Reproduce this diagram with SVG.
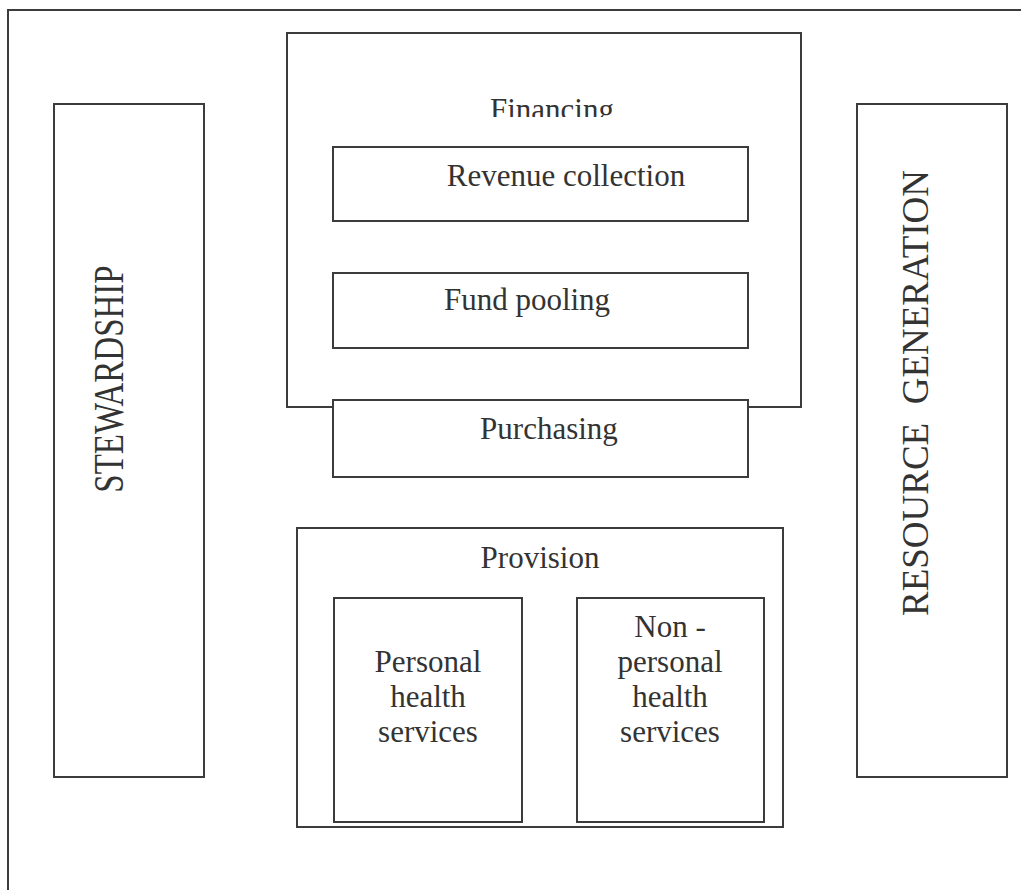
<svg xmlns="http://www.w3.org/2000/svg" width="1021" height="890" viewBox="0 0 1021 890">
<style>
.box{fill:#fff;stroke:#3c3c3c;stroke-width:2}
.t{font-family:"Liberation Serif","Times New Roman",serif;font-size:31px;fill:#333;text-anchor:middle}
.v{font-family:"Liberation Serif","Times New Roman",serif;font-size:37px;fill:#333;text-anchor:middle}
</style>
<defs>
<clipPath id="finclip"><rect x="288" y="34" width="512" height="83"/></clipPath>
</defs>
<rect width="1021" height="890" fill="#fff"/>
<g id="frame"><path d="M8,892 V10 H1023" fill="none" stroke="#3c3c3c" stroke-width="2"/></g>
<g id="stewardship">
<rect class="box" x="54" y="104" width="150" height="673"/>
<text class="v" style="font-size:33px" transform="translate(123,379) rotate(-90) scale(1,1.25)">STEWARDSHIP</text>
</g>
<g id="resource-generation">
<rect class="box" x="857" y="104" width="150" height="673"/>
<text class="v" transform="translate(928,393) rotate(-90)" xml:space="preserve">RESOURCE  GENERATION</text>
</g>
<g id="financing">
<rect class="box" x="287" y="33" width="514" height="374"/>
<text class="t" x="552" y="120" clip-path="url(#finclip)">Financing</text>
</g>
<g id="revenue-collection">
<rect class="box" x="333" y="147" width="415" height="74"/>
<text class="t" x="566" y="186">Revenue collection</text>
</g>
<g id="fund-pooling">
<rect class="box" x="333" y="273" width="415" height="75"/>
<text class="t" x="527" y="310">Fund pooling</text>
</g>
<g id="purchasing">
<rect class="box" x="333" y="400" width="415" height="77"/>
<text class="t" x="549" y="439">Purchasing</text>
</g>
<g id="provision">
<rect class="box" x="297" y="528" width="486" height="299"/>
<text class="t" x="540" y="568">Provision</text>
</g>
<g id="personal-health-services">
<rect class="box" x="334" y="598" width="188" height="224"/>
<text class="t" x="428" y="672"><tspan x="428">Personal</tspan><tspan x="428" dy="35">health</tspan><tspan x="428" dy="35">services</tspan></text>
</g>
<g id="non-personal-health-services">
<rect class="box" x="577" y="598" width="187" height="224"/>
<text class="t" x="670" y="637"><tspan x="670">Non -</tspan><tspan x="670" dy="35">personal</tspan><tspan x="670" dy="35">health</tspan><tspan x="670" dy="35">services</tspan></text>
</g>
<g id="connectors"></g>
</svg>
